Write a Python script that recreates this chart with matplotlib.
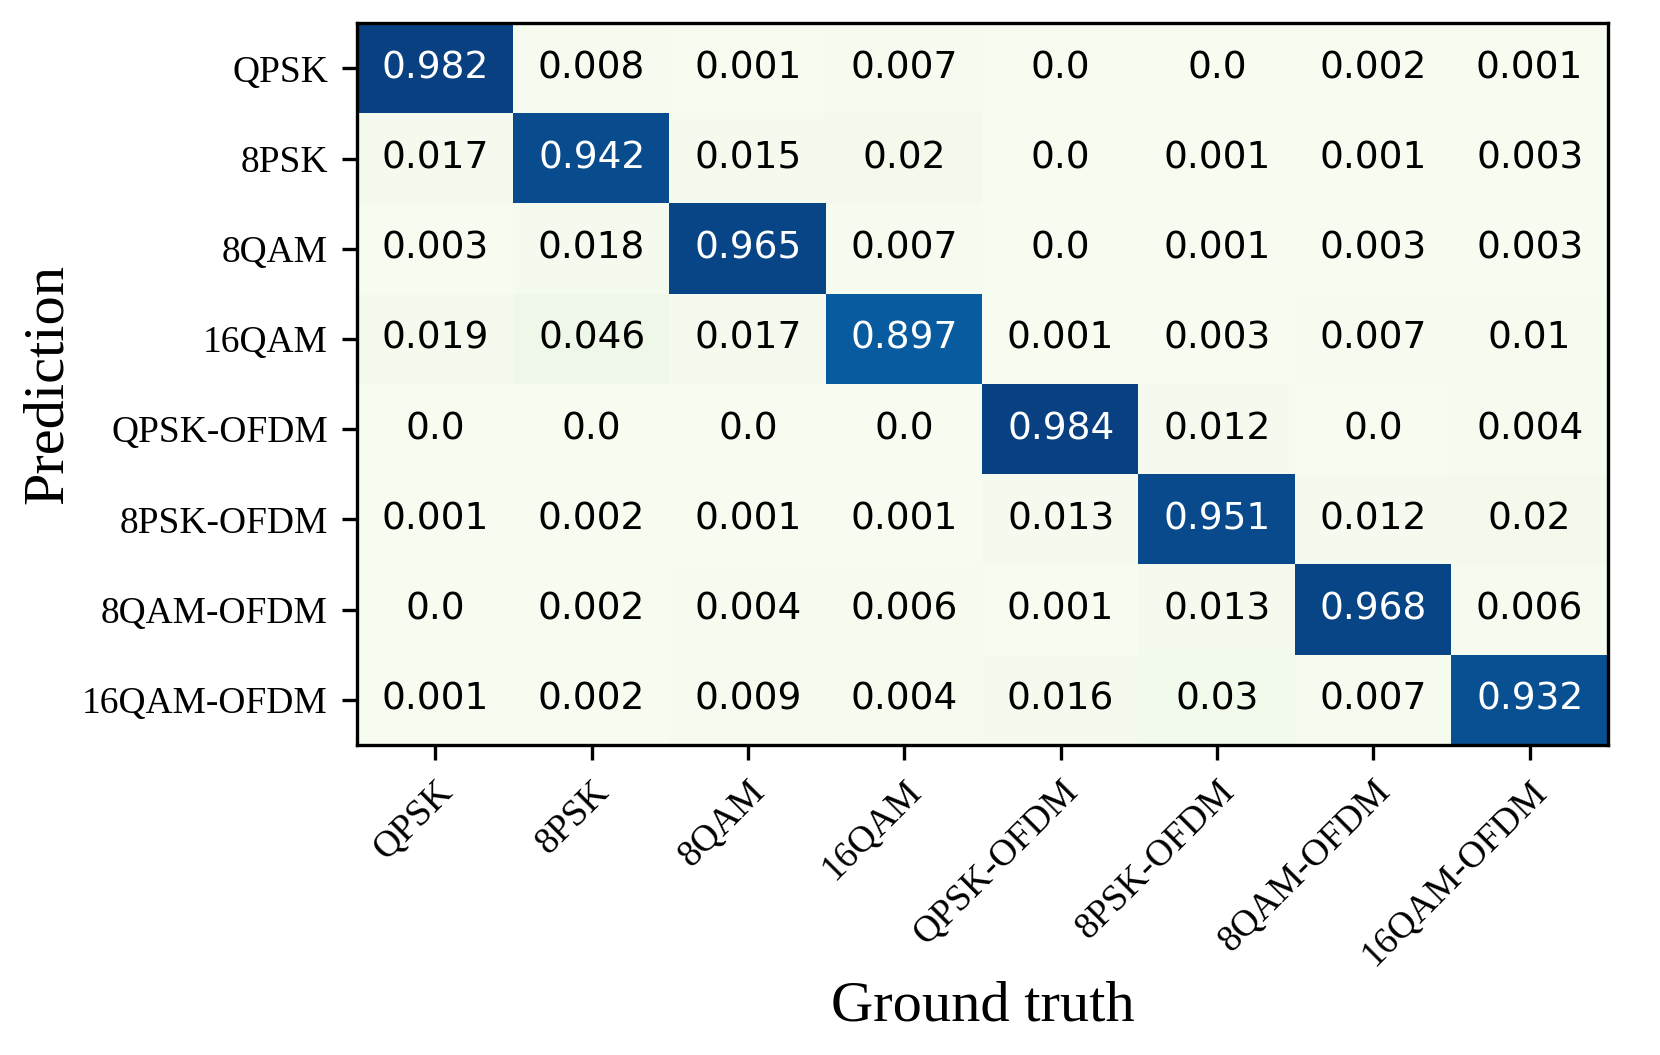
"""Confusion matrix of modulation format classification"""
import numpy as np
import matplotlib.pyplot as plt

classes = ["QPSK", "8PSK", "8QAM", "16QAM",
           "QPSK-OFDM", "8PSK-OFDM", "8QAM-OFDM", "16QAM-OFDM"]

# rows = prediction, columns = ground truth
conf = np.array([
    [0.982, 0.008, 0.001, 0.007, 0.0,   0.0,   0.002, 0.001],
    [0.017, 0.942, 0.015, 0.02,  0.0,   0.001, 0.001, 0.003],
    [0.003, 0.018, 0.965, 0.007, 0.0,   0.001, 0.003, 0.003],
    [0.019, 0.046, 0.017, 0.897, 0.001, 0.003, 0.007, 0.01],
    [0.0,   0.0,   0.0,   0.0,   0.984, 0.012, 0.0,   0.004],
    [0.001, 0.002, 0.001, 0.001, 0.013, 0.951, 0.012, 0.02],
    [0.0,   0.002, 0.004, 0.006, 0.001, 0.013, 0.968, 0.006],
    [0.001, 0.002, 0.009, 0.004, 0.016, 0.03,  0.007, 0.932],
])

fig = plt.figure(figsize=(16.61 / 3, 10.55 / 3), dpi=300)
ax = fig.add_axes([0.215, 0.294, 0.753, 0.684])
ax.imshow(conf, cmap="GnBu", aspect="auto", interpolation="nearest")

thresh = conf.max() / 2.
for i in range(conf.shape[0]):
    for j in range(conf.shape[1]):
        ax.text(j, i, str(conf[i, j]), ha="center", va="center", fontsize=9,
                color="white" if conf[i, j] > thresh else "black")

ax.set_xticks(np.arange(len(classes)))
ax.set_yticks(np.arange(len(classes)))
ax.set_xticklabels(classes, rotation=45, family="Liberation Serif", fontsize=9,
                   ha="right", rotation_mode="anchor")
ax.set_yticklabels(classes, family="Liberation Serif", fontsize=9)
ax.set_xlabel("Ground truth", family="Liberation Serif", fontsize=14, labelpad=2)
ax.set_ylabel("Prediction", family="Liberation Serif", fontsize=14, labelpad=2)

plt.savefig("out.png")
